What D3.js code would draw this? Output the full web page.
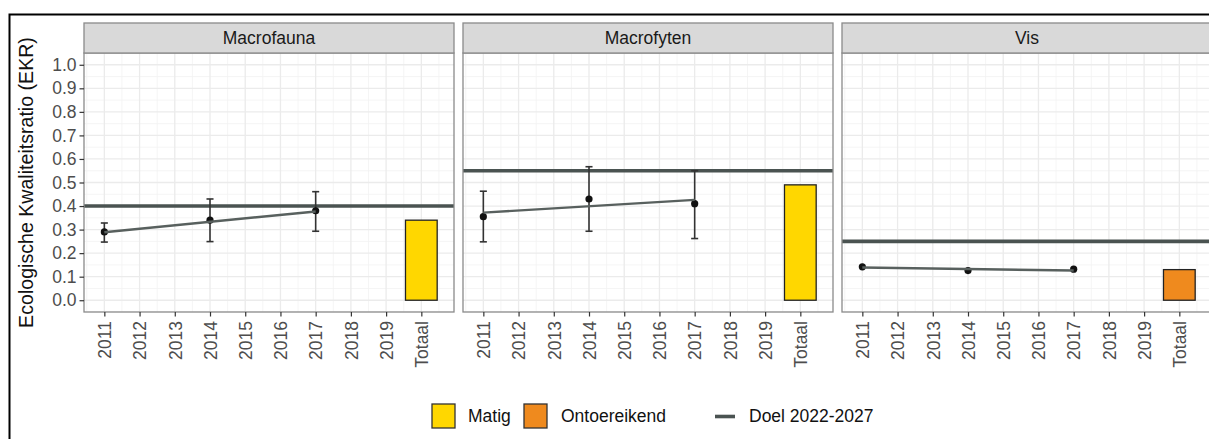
<!DOCTYPE html>
<html>
<head>
<meta charset="utf-8">
<script src="https://cdn.jsdelivr.net/npm/d3@7"></script>
<style>
  html, body { margin: 0; padding: 0; background: #fff; }
  svg { display: block; font-family: "Liberation Sans", Arial, sans-serif; }
</style>
</head>
<body>
<svg id="chart" width="1209" height="439"></svg>
<script>
// ---- data ----
const facets = ["Macrofauna", "Macrofyten", "Vis"];
const sampleYears = [2011, 2014, 2017];
const xTickValues = [2011, 2012, 2013, 2014, 2015, 2016, 2017, 2018, 2019, 2020];
const xTickLabels = ["2011", "2012", "2013", "2014", "2015", "2016", "2017", "2018", "2019", "Totaal"];
const yTickValues = [0, 0.1, 0.2, 0.3, 0.4, 0.5, 0.6, 0.7, 0.8, 0.9, 1.0];

const macrofaunaEKR   = [0.290, 0.340, 0.380];
const macrofaunaLow   = [0.247, 0.249, 0.293];
const macrofaunaHigh  = [0.328, 0.430, 0.461];
const macrofytenEKR   = [0.355, 0.430, 0.410];
const macrofytenLow   = [0.248, 0.293, 0.262];
const macrofytenHigh  = [0.463, 0.567, 0.550];
const visEKR          = [0.142, 0.126, 0.132];

// fitted trend, value at first and last sample year
const trendStart = [0.289, 0.372, 0.139];
const trendEnd   = [0.377, 0.426, 0.126];

const goalValues  = [0.40, 0.55, 0.25];     // Doel 2022-2027
const totalValues = [0.34, 0.49, 0.13];     // Totaal
const totalClass  = ["Matig", "Matig", "Ontoereikend"];

const classNames  = ["Matig", "Ontoereikend"];
const classColors = ["#FFD700", "#EF8A1E"];

// ---- layout ----
const svg = d3.select("#chart");
const fontSize = 17.5;
const panelW = 370, panelTop = 53, panelBottom = 312, stripTop = 23;
const panelLeft = [84, 463, 842];
const totalPos = 2020, barHalf = 0.45, capHalf = 0.1;

// x extent covers the error bar caps and the Totaal bar, padded by 5%
const xLo = sampleYears[0] - capHalf, xHi = totalPos + barHalf;
const xPad = (xHi - xLo) * 0.05;
const x = d3.scaleLinear().domain([xLo - xPad, xHi + xPad]).range([0, panelW]);
const y = d3.scaleLinear().domain([-0.05, 1.05]).range([panelBottom, panelTop]);

const fill = d3.scaleOrdinal().domain(classNames).range(classColors);

// outer frame
svg.append("rect").attr("x", 9.5).attr("y", 14.5).attr("width", 1300).attr("height", 500)
  .attr("fill", "none").attr("stroke", "#000").attr("stroke-width", 2);

const series = [
  { ekr: macrofaunaEKR, low: macrofaunaLow, high: macrofaunaHigh },
  { ekr: macrofytenEKR, low: macrofytenLow, high: macrofytenHigh },
  { ekr: visEKR, low: null, high: null }
];

facets.forEach((name, i) => {
  const g = svg.append("g").attr("transform", `translate(${panelLeft[i]},0)`);
  const s = series[i];

  // clip to panel
  const clipId = "clip" + i;
  g.append("clipPath").attr("id", clipId).append("rect")
    .attr("x", 0).attr("y", panelTop).attr("width", panelW).attr("height", panelBottom - panelTop);
  const plot = g.append("g").attr("clip-path", `url(#${clipId})`);

  // minor grid
  const minorX = d3.range(2010.5, 2021, 1);
  const minorY = d3.range(-0.05, 1.06, 0.1);
  plot.selectAll(".mx").data(minorX).join("line")
    .attr("x1", d => x(d)).attr("x2", d => x(d)).attr("y1", panelTop).attr("y2", panelBottom)
    .attr("stroke", "#f3f3f3").attr("stroke-width", 0.8);
  plot.selectAll(".my").data(minorY).join("line")
    .attr("x1", 0).attr("x2", panelW).attr("y1", d => y(d)).attr("y2", d => y(d))
    .attr("stroke", "#f3f3f3").attr("stroke-width", 0.8);
  // major grid
  plot.selectAll(".gx").data(xTickValues).join("line")
    .attr("x1", d => x(d)).attr("x2", d => x(d)).attr("y1", panelTop).attr("y2", panelBottom)
    .attr("stroke", "#ebebeb").attr("stroke-width", 1.3);
  plot.selectAll(".gy").data(yTickValues).join("line")
    .attr("x1", 0).attr("x2", panelW).attr("y1", d => y(d)).attr("y2", d => y(d))
    .attr("stroke", "#ebebeb").attr("stroke-width", 1.3);

  // Totaal bar
  plot.append("rect")
    .attr("x", x(totalPos - barHalf)).attr("width", x(totalPos + barHalf) - x(totalPos - barHalf))
    .attr("y", y(totalValues[i])).attr("height", y(0) - y(totalValues[i]))
    .attr("fill", fill(totalClass[i])).attr("stroke", "#222").attr("stroke-width", 1.3);

  // goal line
  plot.append("line")
    .attr("x1", 0).attr("x2", panelW).attr("y1", y(goalValues[i])).attr("y2", y(goalValues[i]))
    .attr("stroke", "#4a5351").attr("stroke-width", 3.6);

  // error bars
  if (s.low) {
    const eb = plot.selectAll(".eb").data(sampleYears).join("g").attr("stroke", "#333").attr("stroke-width", 1.6);
    eb.append("line").attr("x1", d => x(d)).attr("x2", d => x(d))
      .attr("y1", (d, k) => y(s.low[k])).attr("y2", (d, k) => y(s.high[k]));
    eb.append("line").attr("x1", d => x(d - capHalf)).attr("x2", d => x(d + capHalf))
      .attr("y1", (d, k) => y(s.low[k])).attr("y2", (d, k) => y(s.low[k]));
    eb.append("line").attr("x1", d => x(d - capHalf)).attr("x2", d => x(d + capHalf))
      .attr("y1", (d, k) => y(s.high[k])).attr("y2", (d, k) => y(s.high[k]));
  }

  // points
  plot.selectAll(".pt").data(sampleYears).join("circle")
    .attr("cx", d => x(d)).attr("cy", (d, k) => y(s.ekr[k])).attr("r", 3.6)
    .attr("fill", "#111");

  // trend line
  const tr = [[sampleYears[0], trendStart[i]], [sampleYears[sampleYears.length - 1], trendEnd[i]]];
  plot.append("path")
    .attr("d", d3.line().x(d => x(d[0])).y(d => y(d[1]))(tr))
    .attr("fill", "none").attr("stroke", "#58605e").attr("stroke-width", 2.4);

  // panel border
  g.append("rect").attr("x", 0).attr("y", panelTop).attr("width", panelW).attr("height", panelBottom - panelTop)
    .attr("fill", "none").attr("stroke", "#8a8a8a").attr("stroke-width", 1.3);

  // strip
  g.append("rect").attr("x", 0).attr("y", stripTop).attr("width", panelW).attr("height", panelTop - stripTop)
    .attr("fill", "#d9d9d9").attr("stroke", "#8a8a8a").attr("stroke-width", 1.3);
  g.append("text").attr("x", panelW / 2).attr("y", (stripTop + panelTop) / 2)
    .attr("dy", "0.35em").attr("text-anchor", "middle")
    .attr("font-size", fontSize).attr("fill", "#1a1a1a").text(name);

  // x axis
  const xAxis = d3.axisBottom(x).tickValues(xTickValues).tickSize(4.5).tickPadding(0)
    .tickFormat((d, k) => xTickLabels[k]);
  const ax = g.append("g").attr("transform", `translate(0,${panelBottom})`).call(xAxis);
  ax.select(".domain").remove();
  ax.selectAll(".tick line").attr("stroke", "#333").attr("stroke-width", 1.2);
  ax.selectAll(".tick text")
    .attr("transform", "rotate(-90)")
    .attr("x", -9).attr("y", 0).attr("dy", "0.36em")
    .attr("text-anchor", "end")
    .attr("font-size", fontSize).attr("font-family", "Liberation Sans, Arial, sans-serif")
    .attr("fill", "#4d4d4d");

  // y axis on first panel only
  if (i === 0) {
    const yAxis = d3.axisLeft(y).tickValues(yTickValues).tickSize(4.5).tickPadding(3)
      .tickFormat(d3.format(".1f"));
    const ay = g.append("g").call(yAxis);
    ay.select(".domain").remove();
    ay.selectAll(".tick line").attr("stroke", "#333").attr("stroke-width", 1.2);
    ay.selectAll(".tick text").attr("font-size", fontSize)
      .attr("font-family", "Liberation Sans, Arial, sans-serif").attr("fill", "#4d4d4d");
  }
});

// y axis title
svg.append("text")
  .attr("transform", `translate(26,${(panelTop + panelBottom) / 2}) rotate(-90)`)
  .attr("dy", "0.35em").attr("text-anchor", "middle")
  .attr("font-size", 19.6).attr("fill", "#111")
  .text("Ecologische Kwaliteitsratio (EKR)");

// legend
const legY = 416;
const legend = svg.append("g");
const keyX = [432, 524];
const labX = [468, 561];
classNames.forEach((c, k) => {
  legend.append("rect").attr("x", keyX[k]).attr("y", legY - 12).attr("width", 23).attr("height", 24)
    .attr("fill", fill(c)).attr("stroke", "#333").attr("stroke-width", 1.3);
  legend.append("text").attr("x", labX[k]).attr("y", legY).attr("dy", "0.35em")
    .attr("font-size", fontSize).attr("fill", "#111").text(c);
});
legend.append("line").attr("x1", 715).attr("x2", 735).attr("y1", legY + 0.5).attr("y2", legY + 0.5)
  .attr("stroke", "#4a5351").attr("stroke-width", 3.6);
legend.append("text").attr("x", 749).attr("y", legY).attr("dy", "0.35em")
  .attr("font-size", fontSize).attr("fill", "#111").text("Doel 2022-2027");
</script>
</body>
</html>
